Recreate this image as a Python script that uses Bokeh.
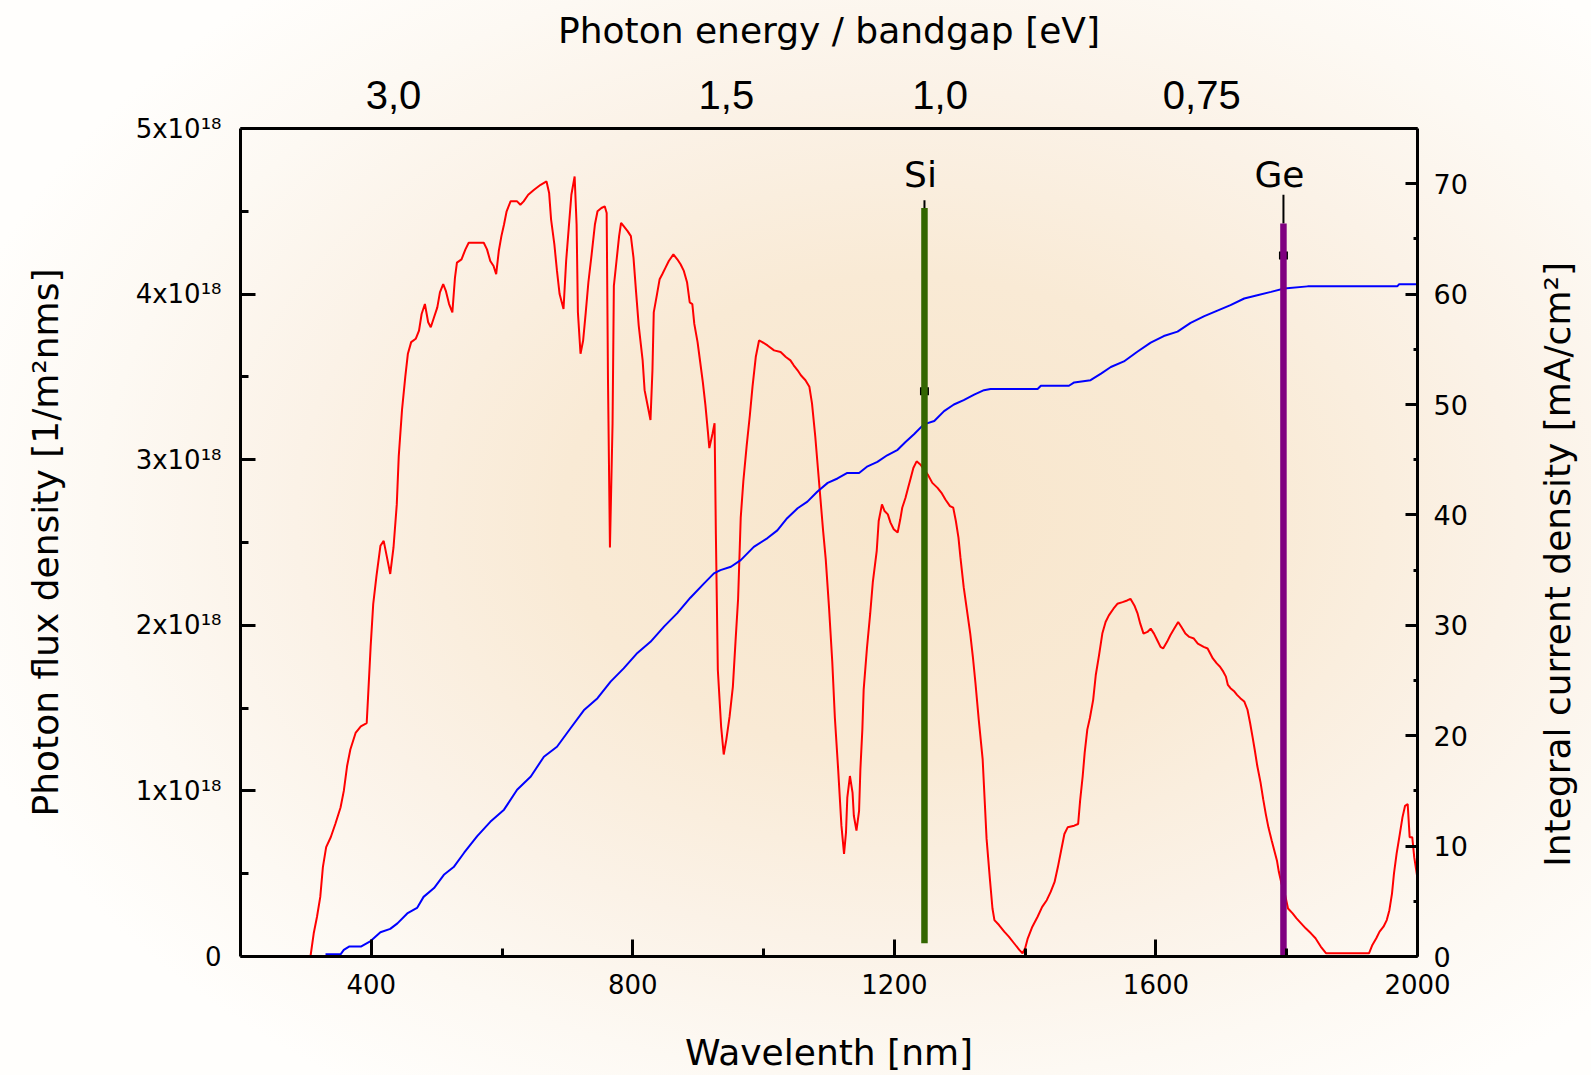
import math

from bokeh.embed import file_html
from bokeh.layouts import row
from bokeh.models import FixedTicker, Label, LinearAxis, Range1d
from bokeh.plotting import figure
from bokeh.resources import INLINE

# ---------------------------------------------------------------------------
# Data
# ---------------------------------------------------------------------------
# Spectral photon flux density, in units of 1e18 photons / (m^2 nm s)
wavelength_nm = [
    307, 312, 317, 322, 326, 331, 338, 345, 353, 358, 363, 368, 376, 384, 393,
    395, 399, 403, 408, 414, 419, 424, 429, 434, 439, 442, 447, 452, 456, 461,
    468, 473, 477, 482, 487, 491, 496, 501, 505, 510, 514, 519, 524, 528, 531,
    538, 544, 549, 572, 577, 582, 587, 591, 595, 599, 603, 607, 613, 623, 628,
    633, 640, 649, 659, 668, 672, 675, 680, 684, 688, 694, 698, 702, 706, 711,
    714, 716, 720, 724, 728, 732, 737, 742, 746, 752, 757, 760, 762, 765, 769,
    771, 775, 779, 782, 786, 792, 797, 801, 805, 809, 815, 818, 823, 827, 830,
    832, 837, 841, 845, 850, 855, 862, 868, 873, 878, 883, 887, 891, 894, 899,
    903, 907, 911, 915, 917, 922, 925, 927, 930, 935, 939, 943, 948, 953, 957,
    961, 965, 969, 974, 979, 983, 988, 993, 998, 1006, 1016, 1026, 1034, 1041,
    1046, 1052, 1057, 1064, 1070, 1074, 1079, 1083, 1087, 1091, 1095, 1100,
    1105, 1109, 1114, 1119, 1123, 1126, 1128, 1132, 1136, 1138, 1142, 1146,
    1148, 1151, 1153, 1158, 1163, 1167, 1173, 1176, 1181, 1185, 1190, 1194,
    1199, 1205, 1209, 1212, 1217, 1221, 1225, 1229, 1234, 1240, 1251, 1258,
    1266, 1272, 1278, 1285, 1290, 1294, 1298, 1301, 1306, 1311, 1316, 1320,
    1324, 1329, 1335, 1338, 1341, 1346, 1350, 1353, 1360, 1368, 1375, 1383,
    1391, 1396, 1400, 1404, 1411, 1419, 1426, 1433, 1439, 1445, 1450, 1455,
    1460, 1465, 1475, 1481, 1484, 1488, 1491, 1495, 1499, 1504, 1508, 1513,
    1518, 1523, 1528, 1535, 1541, 1549, 1556, 1561, 1567, 1572, 1576, 1581,
    1587, 1592, 1597, 1602, 1607, 1611, 1617, 1622, 1628, 1634, 1639, 1645,
    1651, 1658, 1664, 1673, 1679, 1683, 1687, 1693, 1698, 1703, 1707, 1710,
    1714, 1720, 1724, 1729, 1735, 1740, 1744, 1748, 1751, 1755, 1760, 1764,
    1768, 1772, 1777, 1781, 1785, 1788, 1792, 1797, 1802, 1809, 1815, 1822,
    1829, 1837, 1844, 1852, 1860, 1926, 1931, 1937, 1942, 1948, 1953, 1957,
    1961, 1964, 1968, 1973, 1977, 1981, 1985, 1988, 1992, 1995, 2000,
]
flux_1e18 = [
    0.00, 0.14, 0.24, 0.36, 0.54, 0.66, 0.72, 0.80, 0.90, 1.00, 1.15, 1.25, 1.35, 1.39, 1.41,
    1.56, 1.87, 2.13, 2.30, 2.48, 2.51, 2.41, 2.31, 2.47, 2.73, 3.02, 3.30, 3.50, 3.64, 3.71,
    3.73, 3.78, 3.88, 3.94, 3.83, 3.80, 3.86, 3.92, 4.01, 4.06, 4.02, 3.94, 3.89, 4.10, 4.19,
    4.21, 4.27, 4.31, 4.31, 4.27, 4.20, 4.17, 4.12, 4.26, 4.35, 4.42, 4.50, 4.56, 4.56, 4.54,
    4.56, 4.60, 4.63, 4.66, 4.68, 4.61, 4.45, 4.30, 4.14, 4.00, 3.91, 4.20, 4.40, 4.60, 4.71,
    4.42, 3.89, 3.64, 3.72, 3.89, 4.07, 4.24, 4.42, 4.50, 4.52, 4.53, 4.49, 3.48, 2.47, 3.22,
    4.05, 4.20, 4.35, 4.43, 4.41, 4.38, 4.35, 4.22, 4.01, 3.81, 3.60, 3.42, 3.32, 3.24, 3.54,
    3.89, 4.00, 4.09, 4.12, 4.16, 4.20, 4.24, 4.21, 4.18, 4.14, 4.07, 3.95, 3.94, 3.82, 3.71,
    3.59, 3.47, 3.33, 3.16, 3.07, 3.16, 3.22, 2.55, 1.73, 1.39, 1.22, 1.31, 1.45, 1.63, 1.90,
    2.16, 2.65, 2.87, 3.08, 3.27, 3.44, 3.62, 3.72, 3.71, 3.69, 3.66, 3.65, 3.62, 3.60,
    3.57, 3.54, 3.51, 3.48, 3.44, 3.34, 3.14, 2.95, 2.76, 2.57, 2.40, 2.11,
    1.78, 1.44, 1.13, 0.79, 0.62, 0.75, 0.96, 1.09, 0.99, 0.85, 0.76, 0.88,
    1.13, 1.37, 1.61, 1.86, 2.07, 2.26, 2.45, 2.63, 2.73, 2.69, 2.67, 2.62,
    2.58, 2.56, 2.64, 2.71, 2.77, 2.83, 2.89, 2.95, 2.99, 2.97, 2.91, 2.86,
    2.83, 2.80, 2.76, 2.72, 2.71, 2.63, 2.53, 2.41, 2.23, 2.09, 1.95, 1.81,
    1.65, 1.43, 1.19, 0.95, 0.71, 0.47, 0.29, 0.22, 0.19, 0.15, 0.12, 0.08,
    0.04, 0.02, 0.05, 0.11, 0.18, 0.24, 0.30, 0.34, 0.39, 0.45, 0.54, 0.64,
    0.74, 0.78, 0.79, 0.80, 0.94, 1.09, 1.23, 1.37, 1.44, 1.55, 1.70, 1.82,
    1.95, 2.02, 2.06, 2.10, 2.13, 2.14, 2.15, 2.16, 2.12, 2.07, 2.01, 1.95,
    1.96, 1.98, 1.95, 1.91, 1.87, 1.86, 1.90, 1.94, 1.98, 2.02, 1.99, 1.95,
    1.93, 1.92, 1.89, 1.87, 1.86, 1.83, 1.80, 1.77, 1.75, 1.72, 1.69, 1.64,
    1.62, 1.60, 1.58, 1.56, 1.54, 1.49, 1.41, 1.32, 1.25, 1.15, 1.05, 0.95,
    0.86, 0.78, 0.70, 0.64, 0.58, 0.51, 0.44, 0.38, 0.29, 0.26, 0.23, 0.20,
    0.17, 0.14, 0.11, 0.06, 0.02, 0.02, 0.07, 0.11, 0.15, 0.18, 0.22, 0.28,
    0.38, 0.50, 0.62, 0.74, 0.84, 0.91, 0.92, 0.72, 0.72, 0.60, 0.47,
]

# Integral current density, mA/cm^2
current_nm = [
    330, 353, 358, 366, 384, 399, 414, 429, 440, 455, 470, 480, 496, 511, 526,
    542, 562, 582, 603, 623, 644, 664, 684, 705, 725, 746, 766, 786, 807, 827,
    848, 868, 888, 909, 924, 934, 950, 965, 985, 1006, 1021, 1036, 1052, 1067,
    1082, 1098, 1113, 1128, 1146, 1159, 1174, 1189, 1205, 1217, 1230, 1245,
    1261, 1276, 1291, 1306, 1322, 1337, 1347, 1419, 1424, 1467, 1475, 1500,
    1516, 1531, 1551, 1572, 1592, 1612, 1633, 1653, 1674, 1694, 1714, 1735,
    1755, 1776, 1796, 1832, 1969, 1972, 2000,
]
current_ma = [
    0.2, 0.2, 0.6, 0.9, 0.9, 1.4, 2.2, 2.5, 3.0, 3.9, 4.4, 5.4, 6.2, 7.4, 8.1,
    9.4, 10.9, 12.2, 13.3, 15.1, 16.3, 18.1, 19.0, 20.7, 22.3, 23.4, 24.9, 26.1, 27.5, 28.5,
    29.9, 31.1, 32.5, 33.8, 34.7, 35.0, 35.3, 35.9, 37.1, 37.9, 38.6, 39.7, 40.6, 41.2,
    42.1, 42.9, 43.3, 43.8, 43.8, 44.4, 44.8, 45.4, 45.9, 46.6, 47.3, 48.2,
    48.5, 49.4, 50.0, 50.4, 50.9, 51.3, 51.4, 51.4, 51.7, 51.7, 52.0, 52.2,
    52.8, 53.4, 53.9, 54.8, 55.6, 56.2, 56.6, 57.4, 58.0, 58.5, 59.0, 59.6,
    59.9, 60.2, 60.5, 60.7, 60.7, 60.9, 60.9,
]

# Band-gap bars (values on the current-density scale)
gap_names = ["Si", "Ge"]
gap_nm = [1246, 1795]
gap_bar_bottom = [1.2, -0.1]
gap_bar_top = [67.8, 66.4]
gap_whisker_top = [68.5, 69.0]
gap_marker = [51.2, 63.5]
gap_colors = ["#336600", "#800080"]

# Axis ticks
wavelength_ticks = [400, 800, 1200, 1600, 2000]
wavelength_minor = [600, 1000, 1400, 1800]
flux_ticks = [0, 1, 2, 3, 4, 5]
flux_minor = [0.5, 1.5, 2.5, 3.5, 4.5]
flux_labels = ["0", "1x10\u00b9\u2078", "2x10\u00b9\u2078", "3x10\u00b9\u2078",
               "4x10\u00b9\u2078", "5x10\u00b9\u2078"]
current_ticks = [0, 10, 20, 30, 40, 50, 60, 70]
current_minor = [5, 15, 25, 35, 45, 55, 65, 75]
energy_tick_nm = [434, 943, 1270, 1670]
energy_tick_labels = ["3,0", "1,5", "1,0", "0,75"]

# Axis titles
wavelength_title = "Wavelenth [nm]"
flux_title = "Photon flux density [1/m\u00b2nms]"
current_title = "Integral current density [mA/cm\u00b2]"
energy_title = "Photon energy / bandgap [eV]"

# ---------------------------------------------------------------------------
# Styling
# ---------------------------------------------------------------------------
FONT = "DejaVu Sans"
TITLE_SIZE = "36px"
X_START, X_END = 200, 2000
MAIN_W, SIDE_W, H = 1530, 61, 1075

p = figure(
    width=MAIN_W,
    height=H,
    x_range=Range1d(X_START, X_END),
    y_range=Range1d(0, 5),
    output_backend="svg",
    toolbar_location=None,
    min_border_left=240,
    min_border_right=MAIN_W - 1417,
    min_border_top=128,
    min_border_bottom=119,
)
p.extra_y_ranges = {"current": Range1d(0, 75)}

p.background_fill_color = None
p.border_fill_color = None
p.outline_line_color = None
p.xgrid.visible = False
p.ygrid.visible = False


def style_axis(ax, label_size):
    ax.axis_line_width = 3
    ax.axis_line_color = "black"
    ax.major_tick_line_width = 3
    ax.minor_tick_line_width = 3
    ax.major_tick_out = 0
    ax.minor_tick_out = 0
    ax.major_label_text_font = FONT
    ax.major_label_text_font_size = label_size
    ax.major_label_text_color = "black"
    ax.axis_label_text_font = FONT
    ax.axis_label_text_font_size = TITLE_SIZE
    ax.axis_label_text_font_style = "normal"
    ax.axis_label_text_color = "black"


# Wavelength axis (bottom)
xax = p.xaxis[0]
style_axis(xax, "26px")
xax.ticker = FixedTicker(ticks=wavelength_ticks, minor_ticks=wavelength_minor)
xax.major_tick_in = 17
xax.minor_tick_in = 8
xax.major_label_standoff = 17
xax.axis_label = wavelength_title
xax.axis_label_standoff = 35

# Photon flux axis (left)
yax = p.yaxis[0]
style_axis(yax, "26px")
yax.ticker = FixedTicker(ticks=flux_ticks, minor_ticks=flux_minor)
yax.major_label_overrides = dict(zip(flux_ticks, flux_labels))
yax.major_tick_in = 15
yax.minor_tick_in = 8
yax.major_label_standoff = 19
yax.axis_label = flux_title
yax.axis_label_standoff = 67

# Integral current axis (right); its title sits in the side strip
rax = LinearAxis(y_range_name="current")
style_axis(rax, "27px")
rax.ticker = FixedTicker(ticks=current_ticks, minor_ticks=current_minor)
rax.major_tick_in = 12
rax.minor_tick_in = 4
rax.major_label_standoff = 16
p.add_layout(rax, "right")

# Photon energy axis (top)
tax = LinearAxis()
style_axis(tax, "40px")
tax.major_label_text_font = "Liberation Sans"
tax.ticker = FixedTicker(ticks=energy_tick_nm, minor_ticks=[])
tax.major_label_overrides = dict(zip(energy_tick_nm, energy_tick_labels))
tax.major_tick_line_color = None
tax.minor_tick_line_color = None
tax.major_label_standoff = 20
tax.axis_label = energy_title
tax.axis_label_standoff = 27
p.add_layout(tax, "above")

# ---------------------------------------------------------------------------
# Curves
# ---------------------------------------------------------------------------
p.line(wavelength_nm, flux_1e18, line_color="#ff0000", line_width=2)
p.line(current_nm, current_ma, line_color="#0000ff", line_width=2,
       y_range_name="current")

# Band-gap bars with their whiskers and markers
p.segment(x0=gap_nm, y0=gap_bar_top, x1=gap_nm, y1=gap_whisker_top,
          line_color="black", line_width=2, y_range_name="current")
p.rect(x=gap_nm, y=gap_marker, width=9, height=8, width_units="screen",
       height_units="screen", fill_color="black", line_color=None,
       y_range_name="current")
p.segment(x0=gap_nm, y0=gap_bar_bottom, x1=gap_nm, y1=gap_bar_top,
          line_color=gap_colors, line_width=6.5, y_range_name="current")

LABEL_Y = 69.9
for name, xv in zip(gap_names, gap_nm):
    p.add_layout(Label(
        x=xv, y=LABEL_Y, x_offset=-4, y_offset=10, y_range_name="current",
        text=name, text_font=FONT, text_font_size=TITLE_SIZE,
        text_align="center", text_baseline="alphabetic", text_color="black",
    ))

# Side strip holding the right-hand title, read from bottom to top
side = figure(
    width=SIDE_W,
    height=H,
    x_range=Range1d(0, 1),
    y_range=Range1d(0, H),
    output_backend="svg",
    toolbar_location=None,
    x_axis_location=None,
    y_axis_location=None,
    min_border=0,
)
side.background_fill_color = None
side.border_fill_color = None
side.outline_line_color = None
side.xgrid.visible = False
side.ygrid.visible = False
side.add_layout(Label(
    x=0.45, y=H - 566, angle=math.pi / 2, text=current_title,
    text_font=FONT, text_font_size=TITLE_SIZE, text_align="center",
    text_baseline="middle", text_color="black",
))

page = row(p, side)
page.styles = {
    "background": "radial-gradient(ellipse 62% 64% at 57% 48%, "
    "#f8e6cc 0%, #f9ead5 35%, #fbf2e7 62%, #fdf9f3 82%, #fffefc 100%)"
}

open("out.html", "w").write(file_html(page, INLINE))
